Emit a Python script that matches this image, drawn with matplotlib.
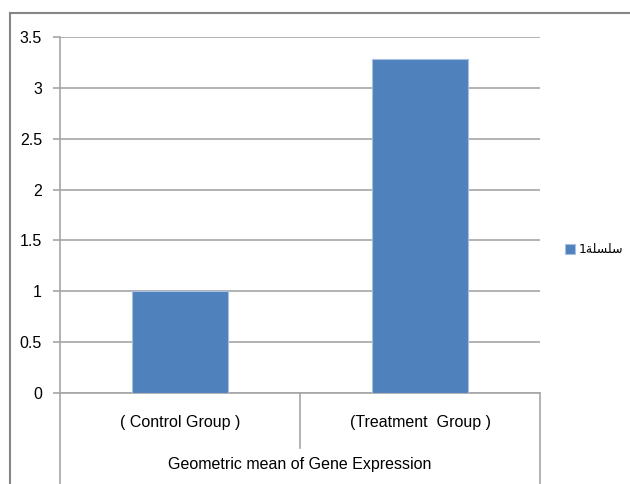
import matplotlib.pyplot as plt
from matplotlib.lines import Line2D

# data
groups = ['( Control Group )', '(Treatment  Group )']
values = [1.0, 3.28]
group_title = 'Geometric mean of Gene Expression'
# "سلسلة1" written in shaped visual order (Arabic presentation forms), since matplotlib has no RTL shaping
series_name = '1\uFE94\uFEE0\uFEB4\uFEE0\uFEB3'
yticks = [0, 0.5, 1, 1.5, 2, 2.5, 3, 3.5]

plt.rcParams['font.family'] = ['Liberation Sans', 'DejaVu Sans']
plt.rcParams['font.size'] = 11.5

W, H = 630, 484
fig = plt.figure(figsize=(W / 100, H / 100), dpi=100)
ax = fig.add_axes([60 / W, (H - 393) / H, 480 / W, 356 / H])

grey = '#a6a6a6'
bars = ax.bar(range(len(values)), values, width=0.4, color='#4f81bd',
              edgecolor='#a7c0e0', linewidth=0.8, zorder=3, label=series_name)

ax.set_xlim(-0.5, len(values) - 0.5)
ax.set_ylim(0, 3.5)
ax.set_yticks(yticks)
ax.set_yticklabels(['%g' % t for t in yticks])
ax.set_xticks([])
ax.yaxis.grid(True, color=grey, linewidth=1.2)
ax.set_axisbelow(True)
for s in ['top', 'right']:
    ax.spines[s].set_visible(False)
for s in ['left', 'bottom']:
    ax.spines[s].set_color(grey)
    ax.spines[s].set_linewidth(1.2)
ax.tick_params(axis='y', length=5, color=grey, width=1.2, pad=8)

# category boxes under the axis
tr = ax.get_xaxis_transform()
bottom = -95 / 356
ax.plot([0.5, 0.5], [0, -55 / 356], color=grey, lw=1.2, transform=tr, clip_on=False)
ax.plot([-0.5, -0.5], [0, bottom], color=grey, lw=1.2, transform=tr, clip_on=False)
ax.plot([1.5, 1.5], [0, bottom], color=grey, lw=1.2, transform=tr, clip_on=False)
for i, g in enumerate(groups):
    ax.text(i, -29 / 356, g, transform=tr, ha='center', va='center')
ax.text(0.5, -72 / 356, group_title, transform=tr, ha='center', va='center')

# outer chart border (only top and left visible in the crop)
fig.add_artist(Line2D([10 / W, 10 / W], [0, 1 - 13 / H], color='#858585', lw=1.5))
fig.add_artist(Line2D([10 / W, 1], [1 - 13 / H, 1 - 13 / H], color='#858585', lw=1.5))

fig.legend(handles=[bars], loc='center left', bbox_to_anchor=(554 / W, 1 - 250 / H),
           frameon=False, handlelength=0.8, handleheight=0.8, handletextpad=0.3,
           prop={'family': ['DejaVu Sans'], 'size': 9})

fig.savefig('out.png', dpi=100)
